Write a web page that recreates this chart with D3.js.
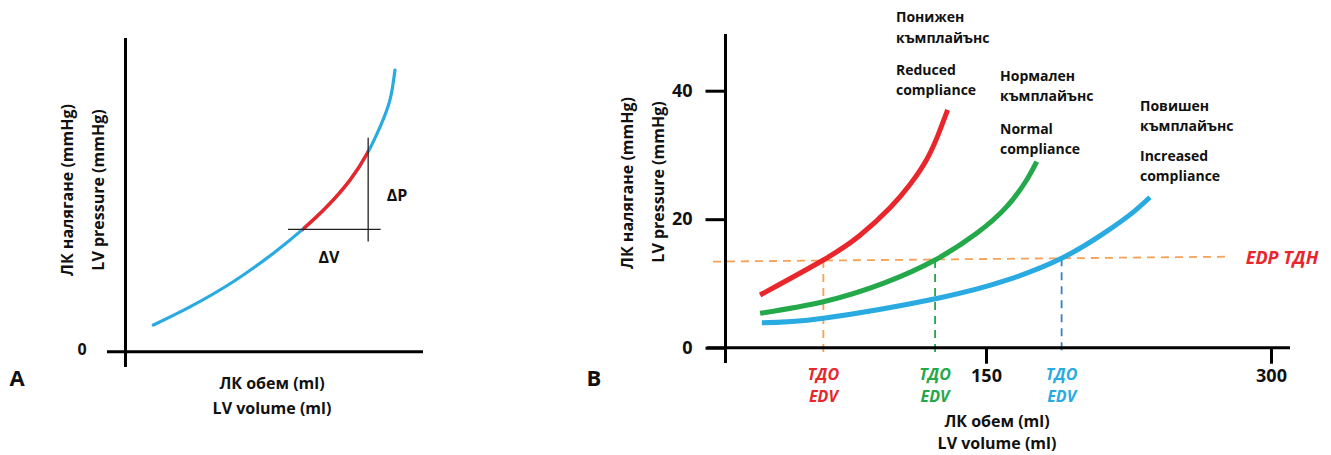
<!DOCTYPE html>
<html><head><meta charset="utf-8">
<script src="https://cdn.jsdelivr.net/npm/d3@7/dist/d3.min.js"></script>
<style>
html,body{margin:0;padding:0;background:#fff;}
svg{display:block;}
text{font-family:'Open Sans',sans-serif;font-weight:700;fill:#111;}
</style></head>
<body>
<script>
// ---------- DATA ----------
// Panel A (schematic units 0-100)
const aCurveVol = [9.5, 21.8, 36.3, 49.8, 59.6, 67.7, 75.5, 81.4, 85.6, 88.9, 90.6];
const aCurvePres = [8.5, 14.3, 22.3, 31.4, 39.0, 46.2, 54.7, 63.4, 71.7, 80.2, 89.8];
const aSegRange = [59.6, 81.4];            // highlighted (red) volume range
const aDeltaV = [[54.7, 39.0], [85.8, 39.0]];
const aDeltaP = [[81.6, 68.2], [81.6, 35.1]];

// Panel B (ml, mmHg)
const bTicksY = [0, 20, 40];
const bTicksX = [150, 300];
const reducedVol = [31.1, 64.4, 83.7, 99.5, 110.0, 118.8, 124.9, 129.8];
const reducedPres = [8.2, 13.65, 17.5, 21.8, 25.4, 29.3, 33.2, 37.0];
const normalVol = [31.1, 64.4, 95.9, 123.2, 145.1, 160.9, 171.4, 176.7];
const normalPres = [5.35, 7.16, 10.02, 13.65, 17.8, 21.95, 26.1, 28.95];
const increasedVol = [32.0, 64.4, 124.7, 160.9, 189.8, 213.5, 227.5, 236.3];
const increasedPres = [3.89, 4.58, 7.7, 10.5, 13.91, 18.1, 21.1, 23.41];
const edpLine = [[6.3, 13.4], [278.4, 14.17]];
const edvValues = [64.4, 123.2, 189.8];
const edvTop = [13.65, 13.65, 13.91];
const edvBottom = -1.3;

// ---------- DRAW ----------
const W = 1331, H = 455;
const svg = d3.select("body").append("svg").attr("width", W).attr("height", H);
svg.append("rect").attr("width", W).attr("height", H).attr("fill", "#fff");

const RED = "#e8262b", GREEN = "#23a84a", BLUE = "#29abe2", ORANGE = "#f7a156", DBLUE = "#3a7fc4";

function txt(g, x, y, s, size, opt = {}) {
  return g.append("text").attr("x", x).attr("y", y).text(s)
    .attr("font-size", size)
    .attr("text-anchor", opt.anchor || "start")
    .attr("dominant-baseline", "central")
    .attr("font-style", opt.italic ? "italic" : "normal")
    .style("fill", opt.color || "#111");
}
function zip(a, b) { return a.map((v, i) => [v, b[i]]); }

// ===== Panel A =====
const gA = svg.append("g");
const ax = d3.scaleLinear().domain([0, 100]).range([125, 423]);
const ay = d3.scaleLinear().domain([0, 100]).range([351.7, 38]);
const lineA = d3.line().x(d => ax(d[0])).y(d => ay(d[1])).curve(d3.curveNatural);

gA.append("line").attr("x1", 107).attr("x2", ax(100)).attr("y1", ay(0)).attr("y2", ay(0))
  .attr("stroke", "#000").attr("stroke-width", 3);
gA.append("line").attr("x1", ax(0) + 0.5).attr("x2", ax(0) + 0.5).attr("y1", ay(100)).attr("y2", 367)
  .attr("stroke", "#000").attr("stroke-width", 3);

const aPath = lineA(zip(aCurveVol, aCurvePres));
gA.append("path").attr("d", aPath).attr("fill", "none")
  .attr("stroke", BLUE).attr("stroke-width", 3.2).attr("stroke-linecap", "round");
svg.append("defs").append("clipPath").attr("id", "segClip").append("rect")
  .attr("x", ax(aSegRange[0])).attr("width", ax(aSegRange[1]) - ax(aSegRange[0]))
  .attr("y", 0).attr("height", H);
gA.append("path").attr("d", aPath).attr("fill", "none").attr("clip-path", "url(#segClip)")
  .attr("stroke", RED).attr("stroke-width", 3.4);
const lineAs = d3.line().x(d => ax(d[0])).y(d => ay(d[1]));
gA.append("path").attr("d", lineAs(aDeltaV)).attr("stroke", "#222").attr("stroke-width", 1.3).attr("fill", "none");
gA.append("path").attr("d", lineAs(aDeltaP)).attr("stroke", "#222").attr("stroke-width", 1.3).attr("fill", "none");

txt(gA, 397, 195, "ΔP", 16, { anchor: "middle" });
txt(gA, 329, 257, "ΔV", 16, { anchor: "middle" });
txt(gA, 82, ay(0) - 3, "0", 16, { anchor: "middle" });
txt(gA, 17, 377, "A", 22, { anchor: "middle" });
txt(gA, 272, 383, "ЛК обем (ml)", 16, { anchor: "middle" });
txt(gA, 272, 408, "LV volume (ml)", 16, { anchor: "middle" });
gA.append("text").attr("transform", "translate(67,190) rotate(-90)").text("ЛК налягане (mmHg)")
  .attr("font-size", 16).attr("text-anchor", "middle").attr("dominant-baseline", "central");
gA.append("text").attr("transform", "translate(98,190) rotate(-90)").text("LV pressure (mmHg)")
  .attr("font-size", 16).attr("text-anchor", "middle").attr("dominant-baseline", "central");

// ===== Panel B =====
const gB = svg.append("g");
const bx = d3.scaleLinear().domain([0, 300]).range([701, 1271]);
const by = d3.scaleLinear().domain([0, 40]).range([347.7, 90.7]);
const lineB = d3.line().x(d => bx(d[0])).y(d => by(d[1])).curve(d3.curveNatural);
const lineBs = d3.line().x(d => bx(d[0])).y(d => by(d[1]));
const yAxisX = 725.5;

// dashed guides
gB.append("path").attr("d", lineBs(edpLine)).attr("fill", "none")
  .attr("stroke", ORANGE).attr("stroke-width", 1.8).attr("stroke-dasharray", "8,6");
const edvColors = [ORANGE, GREEN, DBLUE];
edvValues.forEach((v, i) => {
  gB.append("path").attr("d", lineBs([[v, edvTop[i]], [v, edvBottom]])).attr("fill", "none")
    .attr("stroke", edvColors[i]).attr("stroke-width", 1.8).attr("stroke-dasharray", "8,6");
});

// axes
const yAx = d3.axisLeft(by).tickValues(bTicksY).tickSize(20).tickPadding(13).tickSizeOuter(0);
const gy = gB.append("g").attr("transform", `translate(${yAxisX},0)`).call(yAx);
gy.select(".domain").remove();
gy.selectAll(".tick line").attr("stroke", "#000").attr("stroke-width", 3);
gy.selectAll(".tick text").attr("font-size", 18).attr("font-family", "'Open Sans',sans-serif")
  .attr("font-weight", 700).style("fill", "#111");

const xAx = d3.axisBottom(bx).tickValues(bTicksX).tickSize(16).tickPadding(6).tickSizeOuter(0);
const gx = gB.append("g").attr("transform", `translate(0,${by(0)})`).call(xAx);
gx.select(".domain").remove();
gx.selectAll(".tick line").attr("stroke", "#000").attr("stroke-width", 3);
gx.selectAll(".tick text").attr("font-size", 18).attr("font-family", "'Open Sans',sans-serif")
  .attr("font-weight", 700).style("fill", "#111");

gB.append("line").attr("x1", 707).attr("x2", 1290).attr("y1", by(0)).attr("y2", by(0))
  .attr("stroke", "#000").attr("stroke-width", 3);
gB.append("line").attr("x1", yAxisX).attr("x2", yAxisX).attr("y1", 34).attr("y2", 363)
  .attr("stroke", "#000").attr("stroke-width", 3);

// curves
[[increasedVol, increasedPres, BLUE], [normalVol, normalPres, GREEN], [reducedVol, reducedPres, RED]]
  .forEach(([v, p, c]) => {
    gB.append("path").attr("d", lineB(zip(v, p))).attr("fill", "none")
      .attr("stroke", c).attr("stroke-width", 5);
  });

// labels
txt(gB, 1282, 257, "EDP  ТДН", 18, { anchor: "middle", italic: true, color: RED });
const edvTextColors = [RED, GREEN, BLUE];
edvValues.forEach((v, i) => {
  txt(gB, bx(v), 374, "ТДО", 16, { anchor: "middle", italic: true, color: edvTextColors[i] });
  txt(gB, bx(v), 396, "EDV", 16, { anchor: "middle", italic: true, color: edvTextColors[i] });
});
txt(gB, 594, 377, "B", 22, { anchor: "middle" });
txt(gB, 997, 421, "ЛК обем (ml)", 16, { anchor: "middle" });
txt(gB, 997, 443, "LV volume (ml)", 16, { anchor: "middle" });
gB.append("text").attr("transform", "translate(627,183) rotate(-90)").text("ЛК налягане (mmHg)")
  .attr("font-size", 16).attr("text-anchor", "middle").attr("dominant-baseline", "central");
gB.append("text").attr("transform", "translate(658,182) rotate(-90)").text("LV pressure (mmHg)")
  .attr("font-size", 16).attr("text-anchor", "middle").attr("dominant-baseline", "central");

const notes = [
  [896, [16, 37, 69, 89], ["Понижен", "къмплайънс", "Reduced", "compliance"]],
  [1000, [75, 95, 128, 148], ["Нормален", "къмплайънс", "Normal", "compliance"]],
  [1140, [105, 125, 155, 175], ["Повишен", "къмплайънс", "Increased", "compliance"]]
];
notes.forEach(([x, ys, lines]) => {
  lines.forEach((s, i) => txt(gB, x, ys[i], s, 14));
});
</script>
</body></html>
